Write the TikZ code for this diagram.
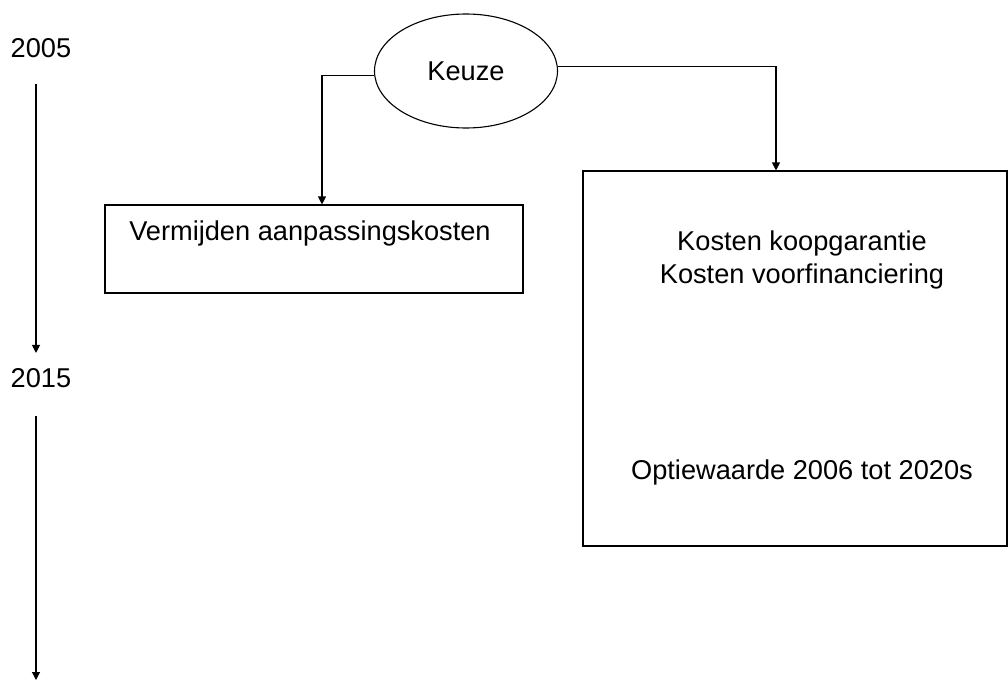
\documentclass[tikz,border=0pt]{standalone}
\usepackage{fontspec}
\setmainfont{Liberation Sans}
\usetikzlibrary{arrows.meta, shapes.geometric}
\tikzset{
  box/.style   = {draw=black, line width=0.55pt, inner sep=0pt},
  oval/.style  = {ellipse, draw=black, line width=0.55pt, inner sep=0pt,
                  minimum width=91.5pt, minimum height=57pt, font=\lbl},
  txt/.style   = {inner sep=0pt, align=center, font=\lbl},
  year/.style  = {inner sep=0pt, font=\lbl},
  arr/.style   = {-{Triangle[length=4pt, width=4pt]}, line width=0.55pt},
}
\newcommand{\lbl}{\fontsize{13.6}{16.5}\selectfont}

\begin{document}
\begin{tikzpicture}[x=0.5pt, y=-0.5pt]
  \useasboundingbox (0,0) rectangle (1008,680);

  % tijdlijn links
  \node[year] (y2005) at (41,48) {2005};
  \node[year] (y2015) at (41,378) {2015};
  \coordinate (tend) at (36,680);
  \draw[arr] ([xshift=-2.5pt, yshift=-13pt]y2005.south)
        -- ([xshift=-2.5pt, yshift=7.5pt]y2015.north);
  \draw[arr] ([xshift=-2.5pt, yshift=-14pt]y2015.south) -- (tend);

  % keuze en de twee takken
  \node[oval] (keuze) at (466,71) {Keuze};
  \node[box, minimum width=209pt, minimum height=44pt] (vermijden) at (314,249) {};
  \node[txt] (vermtxt) at (310,233) {Vermijden aanpassingskosten};
  \node[box, minimum width=212pt, minimum height=187.5pt] (kosten) at (795,358.5) {};
  \node[txt] (kosttxt) at (802,260) {Kosten koopgarantie\\Kosten voorfinanciering};
  \node[txt] (optie) at (802,472) {Optiewaarde 2006 tot 2020s};

  \draw[arr] (keuze.183) -| ([xshift=4pt]vermijden.north);
  \draw[arr] (keuze.3) -| ([xshift=-9.5pt]kosten.north);
\end{tikzpicture}
\end{document}
